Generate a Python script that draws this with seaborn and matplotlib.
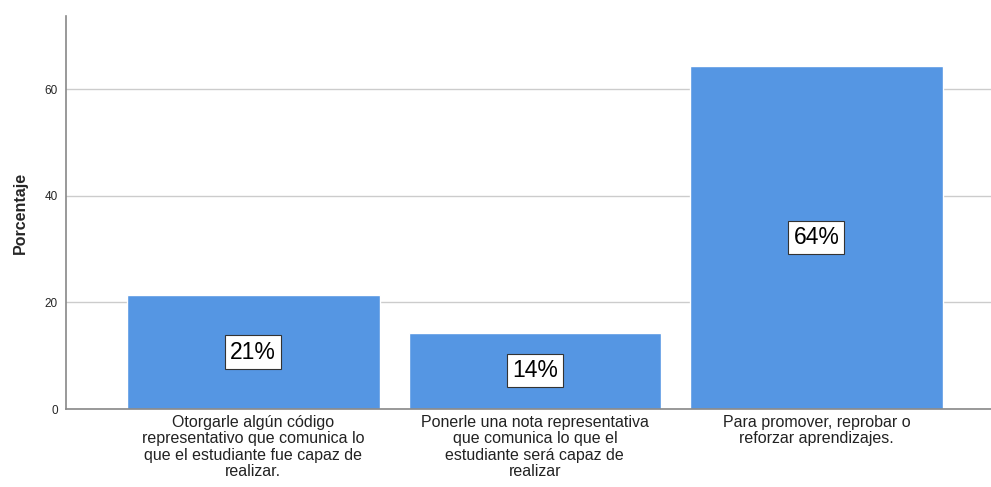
import matplotlib
matplotlib.use('Agg')
import matplotlib.pyplot as plt
import seaborn as sns
import pandas as pd

categorias = [
    "Otorgarle algún código\nrepresentativo que comunica lo\nque el estudiante fue capaz de\nrealizar.",
    "Ponerle una nota representativa\nque comunica lo que el\nestudiante será capaz de\nrealizar",
    "Para promover, reprobar o\nreforzar aprendizajes.",
]
porcentajes = [21.4, 14.3, 64.3]
etiquetas = ["21%", "14%", "64%"]

df = pd.DataFrame({"cat": categorias, "pct": porcentajes})

sns.set_style("white")
plt.rcParams['font.family'] = ['Liberation Sans', 'DejaVu Sans']

fig = plt.figure(figsize=(9.91, 4.87), dpi=100)
ax = fig.add_axes([0.0666, 0.160, 0.9334, 0.807])
sns.barplot(data=df, x="cat", y="pct", color="#5596E3", saturation=1,
            width=0.897, ax=ax, zorder=2)

for i, (v, t) in enumerate(zip(porcentajes, etiquetas)):
    ax.text(i, v / 2, t, ha="center", va="center", fontsize=16.5, color="black",
            bbox=dict(boxstyle="square,pad=0.22", fc="white", ec="#333333", lw=0.8),
            zorder=3)

ax.set_ylim(0, 73.7)
ax.set_xlim(-0.665, 2.62)
ax.set_yticks([0, 20, 40, 60])
ax.yaxis.grid(True, color="#cccccc", lw=1, zorder=0)
ax.set_axisbelow(True)
ax.set_xlabel("")
ax.set_ylabel("Porcentaje", fontsize=11.5, fontweight="bold", labelpad=12)
ax.tick_params(axis="y", labelsize=8.5, length=0, pad=6)
ax.tick_params(axis="x", labelsize=11.5, length=0, pad=4, labelcolor="#222222")
for lbl in ax.get_xticklabels():
    lbl.set_linespacing(1.12)
for s in ["top", "right"]:
    ax.spines[s].set_visible(False)
for s in ["left", "bottom"]:
    ax.spines[s].set_color("#888888")
    ax.spines[s].set_linewidth(1.2)

fig.savefig("out.png", dpi=100)
